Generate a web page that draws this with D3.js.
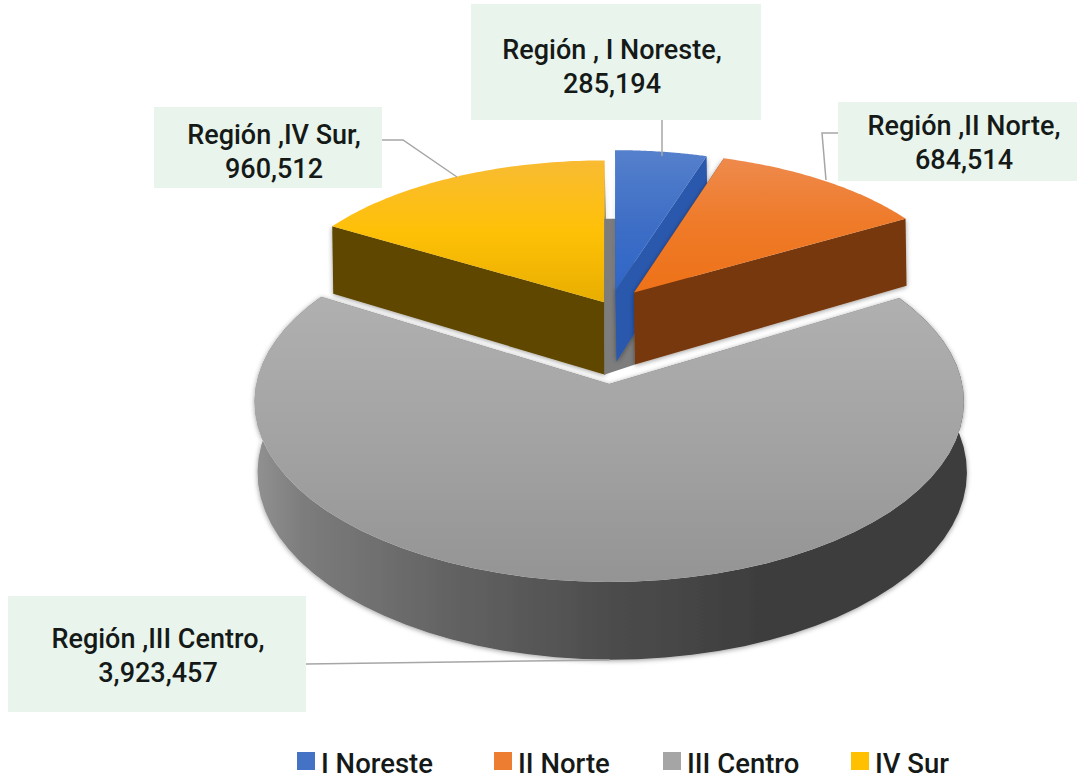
<!DOCTYPE html>
<html>
<head>
<meta charset="utf-8">
<script src="https://d3js.org/d3.v7.min.js"></script>
<style>
  html, body { margin: 0; padding: 0; background: #fff; }
  svg text { font-family: Roboto, "Noto Sans", sans-serif; font-weight: 500; fill: #151a18; }
</style>
</head>
<body>
<svg id="chart" width="1077" height="780"></svg>
<script>
const categories = ["I Noreste", "II Norte", "III Centro", "IV Sur"];
const values = [285194, 684514, 3923457, 960512];
const labelNames = ["Región , I Noreste,", "Región ,II Norte,", "Región ,III Centro,", "Región ,IV Sur,"];
const explode = [0.107, 0.115, 0.45, 0.035];

const colors = ["#4472c4", "#ed7d31", "#a5a5a5", "#ffc000"];
const wallColors = ["#2a58ad", "#77390f", "#777777", "#5f4700"];

const svg = d3.select("#chart");
const defs = svg.append("defs");

// perspective: the pie lies flat, r grows toward the viewer, u to the right
const X0 = 610, Y0 = 384, AX = 353, AY = 178.4, M = 0.0988;
const CENTER_R = -0.45;

function project(u, r) {
    const s = 1 / (1 - M * r);
    return [X0 + AX * u * s, Y0 + AY * r * s, s];
}
// bottom edge of a wall, the back slices shrink faster than the big front one
function lowerBack(p) {
    return [p[0] + 1, p[1] + 72 + (p[2] - 0.95) * 120];
}
function lowerFront(p) {
    return [p[0] + 3, p[1] + 70 * p[2]];
}

const pie = d3.pie().sort(null)(values);

const slices = pie.map(function(d) {
    const i = d.index;
    const mid = (d.startAngle + d.endAngle) / 2;
    // back slices read a little flatter than the front one
    const radiusU = i === 2 ? 1 : 0.985;
    const radiusR = i === 2 ? 1 : 0.95;
    const cu = explode[i] * Math.sin(mid);
    const cr = CENTER_R - explode[i] * Math.cos(mid);
    const rim = d3.range(0, 61).map(function(k) {
        const a = d.startAngle + (d.endAngle - d.startAngle) * k / 60;
        return project(cu + radiusU * Math.sin(a), cr - radiusR * Math.cos(a));
    });
    return { i: i, apex: project(cu, cr), rim: rim };
});

const line = d3.line().curve(d3.curveLinearClosed);

// gradients
function vGrad(id, stops) {
    const g = defs.append("linearGradient").attr("id", id).attr("x1", 0).attr("x2", 0).attr("y1", 0).attr("y2", 1);
    stops.forEach(function(s) { g.append("stop").attr("offset", s[0]).attr("stop-color", s[1]); });
}
vGrad("top0", [[0, "#5580cc"], [0.5, "#3f6fc6"], [1, "#2f66c8"]]);
vGrad("top1", [[0, "#ee8a4c"], [0.5, "#ef7a28"], [1, "#ee7218"]]);
vGrad("top2", [[0, "#b0b0b0"], [0.5, "#a3a3a3"], [1, "#949494"]]);
vGrad("top3", [[0, "#f8bb33"], [0.5, "#ffc107"], [1, "#e8ae00"]]);

const wallGrad = defs.append("linearGradient").attr("id", "wall2")
    .attr("gradientUnits", "userSpaceOnUse").attr("x1", 254).attr("x2", 972).attr("y1", 0).attr("y2", 0);
[[0, "#929292"], [0.07, "#7c7c7c"], [0.27, "#636363"], [0.5, "#4c4c4c"], [0.7, "#3e3e3e"], [1, "#3e3e3e"]]
    .forEach(function(s) { wallGrad.append("stop").attr("offset", s[0]).attr("stop-color", s[1]); });

const shadow = defs.append("filter").attr("id", "shadow")
    .attr("x", "-5%").attr("y", "-5%").attr("width", "110%").attr("height", "115%");
shadow.append("feDropShadow").attr("dx", 0).attr("dy", 1).attr("stdDeviation", 2.5)
    .attr("flood-color", "#000").attr("flood-opacity", 0.4);

function drawSlice(s) {
    const g = svg.append("g").attr("class", "slice");
    const walls = g.append("g").attr("filter", "url(#shadow)");
    const first = s.rim[0], last = s.rim[s.rim.length - 1];
    const lower = s.i === 2 ? lowerFront : lowerBack;

    // outer wall
    if (s.i === 2) {
        const low = s.rim.map(function(p) { return lower(p); }).reverse();
        walls.append("path").attr("d", line(s.rim.concat(low))).attr("fill", "url(#wall2)");
    }
    // radial walls
    [first, last].forEach(function(p) {
        walls.append("path")
            .attr("d", line([s.apex, p, lower(p), lower(s.apex)]))
            .attr("fill", wallColors[s.i]);
    });
    // top face
    g.append("path")
        .attr("d", line([s.apex].concat(s.rim)))
        .attr("fill", "url(#top" + s.i + ")");
}

drawSlice(slices[2]);
drawSlice(slices[3]);

// dark strip that shows between the yellow and blue slices
const stripTop = project(0, -1.02)[1];
svg.append("path")
    .attr("d", line([
        [slices[3].apex[0], stripTop],
        [slices[1].apex[0], stripTop],
        lowerBack(slices[1].apex),
        [slices[3].apex[0], lowerBack(slices[3].apex)[1]]
    ]))
    .attr("fill", "#7d7d7d");

drawSlice(slices[0]);
drawSlice(slices[1]);

// data labels, same order as categories
const boxes = [
    { x: 471, y: 4, w: 290, h: 116, tx: 612, ty: 59, lead: [[662, 120], [662, 156]] },
    { x: 838, y: 102, w: 239, h: 79, tx: 964, ty: 135, lead: [[838, 133], [822, 133], [826, 180]] },
    { x: 8, y: 596, w: 298, h: 116, tx: 158, ty: 648, lead: [[306, 664], [610, 660]] },
    { x: 154, y: 107, w: 228, h: 81, tx: 274, ty: 144, lead: [[382, 140], [403, 140], [457, 177]] }
];
const fmt = d3.format(",");

boxes.forEach(function(b, i) {
    svg.append("path").attr("d", d3.line()(b.lead))
        .attr("fill", "none").attr("stroke", "#a6a6a6").attr("stroke-width", 1.5);
    svg.append("rect").attr("x", b.x).attr("y", b.y).attr("width", b.w).attr("height", b.h).attr("fill", "#e9f5ec");
    svg.append("text").attr("x", b.tx).attr("y", b.ty).attr("text-anchor", "middle")
        .attr("font-size", 27).text(labelNames[i]);
    svg.append("text").attr("x", b.tx).attr("y", b.ty + 34).attr("text-anchor", "middle")
        .attr("font-size", 27).text(fmt(values[i]));
});

// legend
const legendX = [297, 494, 663, 851];
const legend = svg.append("g").selectAll("g").data(categories).enter().append("g")
    .attr("transform", function(d, i) { return "translate(" + legendX[i] + ",752)"; });
legend.append("rect").attr("width", 18).attr("height", 18)
    .attr("fill", function(d, i) { return colors[i]; });
legend.append("text").attr("x", 24).attr("y", 21).attr("font-size", 27.5)
    .text(function(d) { return d; });
</script>
</body>
</html>
